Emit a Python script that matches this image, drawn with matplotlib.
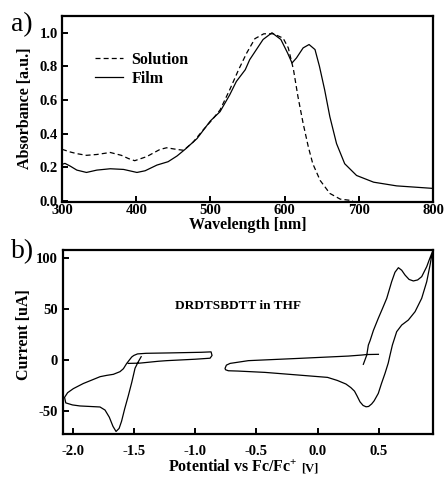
import matplotlib
matplotlib.use("Agg")
import matplotlib.pyplot as plt
import numpy as np

plt.rcParams["font.family"] = ["Liberation Serif", "DejaVu Serif"]
plt.rcParams["font.weight"] = "bold"
plt.rcParams["axes.unicode_minus"] = False
plt.rcParams["mathtext.fontset"] = "custom"
plt.rcParams["mathtext.rm"] = "Liberation Serif"
plt.rcParams["mathtext.bf"] = "Liberation Serif:bold"

# UV-vis absorption (normalised)
wl_sol = [300, 311, 320, 333, 347, 365, 380, 390, 398, 414, 432, 441, 455, 464,
          477, 490, 502, 513, 526, 538, 549, 560, 572, 585, 598, 605, 612, 618,
          625, 632, 638, 648, 661, 675, 692]
abs_sol = [0.306, 0.29, 0.28, 0.27, 0.275, 0.287, 0.27, 0.25, 0.238, 0.262, 0.305,
           0.315, 0.305, 0.30, 0.35, 0.42, 0.48, 0.54, 0.66, 0.78, 0.88, 0.965,
           0.994, 0.994, 0.968, 0.91, 0.78, 0.62, 0.46, 0.32, 0.22, 0.12, 0.043,
           0.009, 0.0]

wl_film = [300, 304, 311, 320, 333, 347, 365, 383, 401, 412, 428, 443, 455, 466,
           482, 500, 513, 526, 535, 547, 553, 562, 571, 583, 595, 604, 610, 616,
           625, 633, 641, 647, 654, 661, 670, 681, 697, 720, 751, 800]
abs_film = [0.216, 0.222, 0.206, 0.182, 0.168, 0.182, 0.19, 0.186, 0.168, 0.178,
            0.212, 0.232, 0.266, 0.306, 0.37, 0.475, 0.53, 0.63, 0.71, 0.78, 0.84,
            0.90, 0.96, 1.0, 0.96, 0.88, 0.82, 0.85, 0.91, 0.93, 0.90, 0.80, 0.66,
            0.50, 0.34, 0.22, 0.15, 0.11, 0.088, 0.073]

# cyclic voltammetry, reduction wave
v_red = [-1.545, -1.449, -1.30, -1.232, -1.0, -0.878, -0.862, -0.870, -0.95, -1.2,
         -1.40, -1.47, -1.50, -1.517, -1.558, -1.585, -1.613, -1.667, -1.72,
         -1.775, -1.830, -1.912, -1.993, -2.04, -2.065, -2.055, -2.0, -1.939,
         -1.776, -1.735, -1.70, -1.67, -1.645, -1.62, -1.60, -1.575, -1.545,
         -1.517, -1.49, -1.465, -1.44]
i_red = [-3.3, -3.0, -1.2, -0.6, 0.8, 1.8, 4.5, 8.0, 7.6, 7.0, 6.6, 6.0, 4.5, 3.0,
         -3.3, -8.5, -11.4, -14.0, -15.0, -16.3, -19.0, -23.0, -28.0, -32.0,
         -36.6, -42.0, -44.0, -45.0, -46.0, -49.0, -56.0, -65.0, -70.0, -67.0,
         -60.0, -48.0, -35.0, -22.0, -8.0, -2.0, 3.3]

# cyclic voltammetry, oxidation wave
v_ox = [0.372, 0.40, 0.413, 0.427, 0.454, 0.494, 0.53, 0.563, 0.603, 0.63, 0.658,
        0.685, 0.712, 0.745, 0.78, 0.815, 0.848, 0.889, 0.912, 0.935, 0.916,
        0.889, 0.848, 0.794, 0.739, 0.685, 0.644, 0.609, 0.590, 0.575, 0.549,
        0.52, 0.494, 0.46, 0.44, 0.415, 0.394, 0.37, 0.345, 0.32, 0.30, 0.27,
        0.23, 0.16, 0.08, -0.158, -0.43, -0.65, -0.729, -0.752, -0.756, -0.745,
        -0.715, -0.566, -0.158, 0.25, 0.359, 0.40, 0.495]
i_ox = [-4.2, 4.9, 14.7, 19.0, 29.0, 40.9, 51.0, 60.5, 76.8, 86.0, 90.5, 88.0,
        83.3, 79.0, 77.5, 78.5, 81.7, 91.5, 99.0, 106.0, 93.0, 76.8, 60.5, 47.4,
        39.2, 34.3, 27.8, 14.7, 5.0, -3.0, -13.0, -23.0, -32.7, -40.0, -43.0,
        -45.5, -45.8, -44.5, -41.0, -35.0, -30.5, -27.0, -23.5, -20.0, -17.0,
        -14.7, -12.1, -10.8, -10.5, -9.5, -8.2, -5.0, -3.3, -0.6, 1.6, 3.9, 4.9,
        5.4, 5.6]

fig = plt.figure(figsize=(4.45, 4.79), dpi=100)
ax1 = fig.add_axes([0.1393, 0.5783, 0.8337, 0.3883])
ax2 = fig.add_axes([0.1423, 0.0939, 0.8315, 0.3841])

for ax in (ax1, ax2):
    for s in ax.spines.values():
        s.set_linewidth(1.6)
    ax.tick_params(direction="in", length=4.5, width=1.4, labelsize=10.5,
                   top=False, right=False)

# a) absorption spectra
ax1.plot(wl_sol, abs_sol, color="k", lw=0.9, linestyle=(0, (4, 2.5)), label="Solution")
ax1.plot(wl_film, abs_film, color="k", lw=0.9, label="Film")
ax1.set_xlim(300, 800)
ax1.set_ylim(-0.008, 1.1)
ax1.set_xticks([300, 400, 500, 600, 700, 800])
ax1.set_yticks([0.0, 0.2, 0.4, 0.6, 0.8, 1.0])
ax1.set_yticklabels(["0.0", "0.2", "0.4", "0.6", "0.8", "1.0"])
ax1.tick_params(axis="x", pad=1.5)
ax1.tick_params(axis="y", pad=3)
ax1.set_xlabel("Wavelength [nm]", fontsize=11.5, fontweight="bold")
ax1.set_ylabel("Absorbance [a.u.]", fontsize=11.5, fontweight="bold")
ax1.xaxis.set_label_coords(0.501, -0.08)
ax1.yaxis.set_label_coords(-0.078, 0.503)
leg = ax1.legend(loc="upper left", bbox_to_anchor=(0.09, 0.808), frameon=False,
                 fontsize=11.5, handlelength=1.75, handletextpad=0.5,
                 labelspacing=0.2, borderpad=0, borderaxespad=0)
for t in leg.get_texts():
    t.set_fontweight("bold")

# b) cyclic voltammogram
ax2.plot(v_red, i_red, color="k", lw=0.9)
ax2.plot(v_ox, i_ox, color="k", lw=0.9)
ax2.set_xlim(-2.075, 0.943)
ax2.set_ylim(-72.5, 107.8)
ax2.set_xticks([-2.0, -1.5, -1.0, -0.5, 0.0, 0.5])
ax2.set_yticks([-50, 0, 50, 100])
ax2.tick_params(axis="x", pad=8)
ax2.tick_params(axis="y", pad=4)
ax2.set_ylabel("Current [uA]", fontsize=11.5, fontweight="bold")
ax2.yaxis.set_label_coords(-0.085, 0.538)
ax2.text(0.634, -0.205, r"Potential vs Fc/Fc$^{\mathbf{+}}$", transform=ax2.transAxes,
         ha="right", va="baseline", fontsize=11.5, fontweight="bold")
ax2.text(0.642, -0.205, "[V]", transform=ax2.transAxes, ha="left", va="baseline",
         fontsize=9, fontweight="bold")
ax2.text(0.471, 0.696, "DRDTSBDTT in THF", transform=ax2.transAxes,
         ha="center", va="center", fontsize=9.5, fontweight="bold")

fig.text(0.05, 0.949, "a)", ha="center", va="center", fontsize=20, fontweight="normal")
fig.text(0.05, 0.475, "b)", ha="center", va="center", fontsize=20, fontweight="normal")

fig.savefig("out.png", dpi=100)
